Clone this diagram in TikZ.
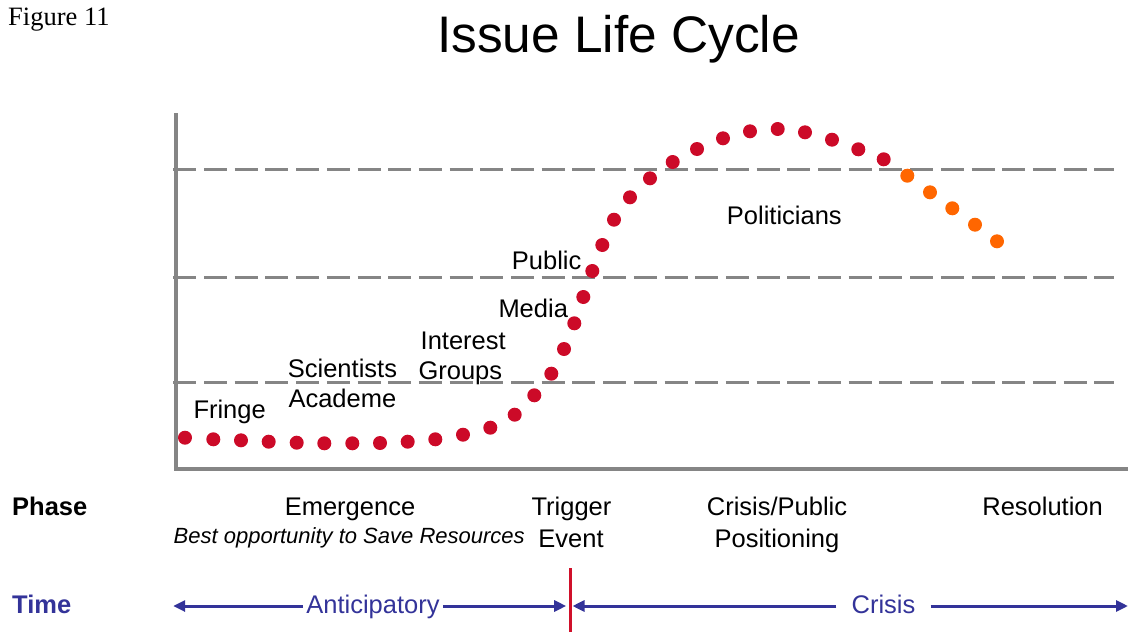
\documentclass[tikz,border=0pt]{standalone}
\usepackage{fontspec}
\setmainfont{Liberation Sans}
\newfontfamily\timesfont{Liberation Serif}
\usetikzlibrary{arrows.meta}
\definecolor{axisgray}{HTML}{858585}
\definecolor{dotred}{HTML}{CC0A28}
\definecolor{dotorange}{HTML}{FF6600}
\definecolor{timeblue}{HTML}{333399}
\definecolor{trigred}{HTML}{D0102A}
\tikzset{
  lbl/.style={font=\fontsize{25.5}{30}\selectfont, inner sep=0pt},
  lblsmall/.style={font=\fontsize{22}{26}\selectfont\itshape, inner sep=0pt},
  dashln/.style={draw=axisgray, line width=3pt, dash pattern=on 23pt off 7.7pt},
  axisln/.style={draw=axisgray, line width=4pt},
  timearrow/.style={draw=timeblue, line width=3pt, -{Triangle[length=12pt,width=11pt]}},
  reddot/.style={fill=dotred},
  orangedot/.style={fill=dotorange},
}
\begin{document}
\begin{tikzpicture}[x=1pt,y=-1pt]
\useasboundingbox (0,0) rectangle (1128,632);
% header
\node[anchor=base west, inner sep=0pt, font=\timesfont\fontsize{26.5}{30}\selectfont] (fig) at (8,25.7) {Figure 11};
\node[anchor=base, inner sep=0pt, font=\fontsize{51.4}{60}\selectfont] (title) at (618.5,52) {Issue Life Cycle};
% dashed levels
\draw[dashln] (173.3,169) -- (1114.3,169);
\draw[dashln] (173.3,277.3) -- (1114.3,277.3);
\draw[dashln] (173.3,382.3) -- (1114.3,382.3);
% axes
\draw[axisln] (176.3,113.3) -- (176.3,471.3);
\draw[axisln] (174.3,469.3) -- (1128,469.3);
% red dots
\foreach \p in {(185,437.7),(213.3,439.3),(241,440.3),(268.7,441.7),(296.7,442.7),(324.3,443.3),(352.3,443.3),(380,443),(407.7,441.7),(435.3,439.3),(463,434.7),(490.3,427.7),(514.7,414.7),(534.3,395.3),(551.3,373.7),(564,349),(574.3,323.3),(583.3,297),(592.3,271),(602.3,245),(614,219.7),(630,197.3),(650,178.3),(672.7,162),(697,149),(723,138.3),(750,131.3),(777.7,129),(805,132.3),(832,139.7),(858.3,149.3),(883.7,159.3)}
  \fill[reddot] \p circle[radius=7pt];
% orange dots
\foreach \p in {(907.3,175.7),(930,192.3),(952.3,208.3),(975,224.7),(997,241.3)}
  \fill[orangedot] \p circle[radius=7pt];
% curve labels
\node[lbl, anchor=base west] (fringe) at (193.3,418.3) {Fringe};
\node[lbl, anchor=base west] (scient) at (287.7,377.7) {Scientists};
\node[lbl, anchor=base west] (academe) at (288.3,407.3) {Academe};
\node[lbl, anchor=base west] (interest) at (420.5,349.3) {Interest};
\node[lbl, anchor=base west] (groups) at (418.3,379.3) {Groups};
\node[lbl, anchor=base west] (media) at (498.3,317.3) {Media};
\node[lbl, anchor=base west] (public) at (511.7,269) {Public};
\node[lbl, anchor=base west] (polit) at (726.7,224) {Politicians};
% phase row
\node[lbl, anchor=base west, font=\fontsize{25.5}{30}\selectfont\bfseries] (phase) at (12,515) {Phase};
\node[lbl, anchor=base] (emerg) at (350,515) {Emergence};
\node[lblsmall, anchor=base] (best) at (349.2,543) {Best opportunity to Save Resources};
\node[lbl, anchor=base] (trigger) at (571.5,515) {Trigger};
\node[lbl, anchor=base] (event) at (571,547) {Event};
\node[lbl, anchor=base] (crispub) at (777,515) {Crisis/Public};
\node[lbl, anchor=base] (posit) at (777,547) {Positioning};
\node[lbl, anchor=base] (resol) at (1042.6,515) {Resolution};
% time row
\node[lbl, anchor=base west, text=timeblue, font=\fontsize{25.5}{30}\selectfont\bfseries] (time) at (12,613) {Time};
\node[lbl, anchor=base, text=timeblue, inner xsep=3pt] (antic) at (373,613) {Anticipatory};
\node[lbl, anchor=base, text=timeblue, inner xsep=15pt] (crisis) at (883.5,613) {Crisis};
\coordinate (lineY) at (0,606);
\coordinate (tipA) at (173.2,606);
\coordinate (tipB) at (566.2,606);
\coordinate (tipC) at (572.5,606);
\coordinate (tipD) at (1128,606);
\draw[timearrow] (antic.west |- lineY) -- (tipA);
\draw[timearrow] (antic.east |- lineY) -- (tipB);
\draw[timearrow] (crisis.west |- lineY) -- (tipC);
\draw[timearrow] (crisis.east |- lineY) -- (tipD);
% trigger line
\coordinate (trigtop) at (570.5,568);
\coordinate (trigbot) at (570.5,632);
\draw[draw=trigred, line width=3pt] (trigtop) -- (trigbot);
\end{tikzpicture}
\end{document}
